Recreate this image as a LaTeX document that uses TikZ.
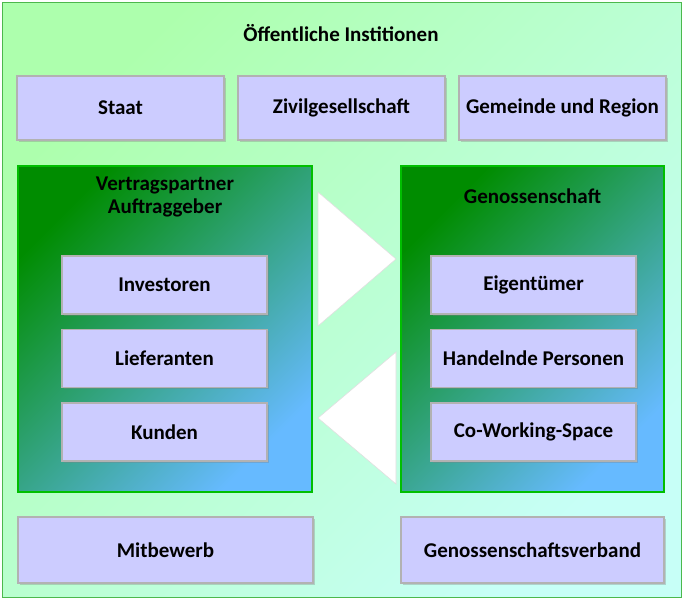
\documentclass[tikz,border=0pt]{standalone}
\usepackage{fontspec}
\setmainfont{Carlito}
\usetikzlibrary{shadows}
\definecolor{boxfill}{HTML}{CCCCFF}
\begin{document}
\begin{tikzpicture}[x=1pt,y=-1pt,
  txt/.style={font=\fontsize{21}{23}\selectfont\bfseries,align=center},
  box/.style={txt,draw=gray!60,line width=1.2pt,fill=boxfill,drop shadow={shadow xshift=1.5pt,shadow yshift=-1.5pt,opacity=0.35}},
  tri/.style={fill=white,draw=gray!25,line width=0.6pt}]
\useasboundingbox (0,0) rectangle (684,600);
\shade[shading=axis,left color=green!32,right color=green!15!cyan!22,shading angle=45] (2,2) rectangle (681,597);
\draw[green!60!black!70,line width=1pt] (2,2) rectangle (681,597);
\node[txt] (title) at (341,33) {Öffentliche Institionen};
\node[box,minimum width=207pt,minimum height=64pt] (staat) at (120.5,108) {Staat};
\node[box,minimum width=207pt,minimum height=64pt] (ziv) at (341.5,108) {Zivilgesellschaft};
\node[box,minimum width=207pt,minimum height=64pt] (gem) at (562.5,108) {Gemeinde und Region};
\shade[shading=axis,left color=green!55!black,right color=blue!45!cyan!60!white,shading angle=45] (18,166) rectangle (312,492);
\draw[green!75!black,line width=2pt] (18,166) rectangle (312,492);
\shade[shading=axis,left color=green!55!black,right color=blue!45!cyan!60!white,shading angle=45] (401,166) rectangle (664,492);
\draw[green!75!black,line width=2pt] (401,166) rectangle (664,492);
\node[txt] (vp) at (165,197) {Vertragspartner\\Auftraggeber};
\node[txt] (gen) at (532.5,196) {Genossenschaft};
\foreach \n/\t/\y in {inv/Investoren/285,lief/Lieferanten/358.5,kun/Kunden/432}
  \node[box,minimum width=205pt,minimum height=58pt] (\n) at (164.5,\y) {\t};
\foreach \n/\t/\y in {eig/Eigentümer/285,han/Handelnde Personen/358.5,cow/Co-Working-Space/432}
  \node[box,minimum width=205pt,minimum height=58pt] (\n) at (533.5,\y) {\t};
\draw[tri] (318,192) -- (396,259) -- (318,326) -- cycle;
\draw[tri] (396,352) -- (318,418) -- (396,484) -- cycle;
\node[box,minimum width=295pt,minimum height=66pt] (mit) at (165.5,550) {Mitbewerb};
\node[box,minimum width=263pt,minimum height=66pt] (gv) at (532.5,550) {Genossenschaftsverband};
\end{tikzpicture}
\end{document}
